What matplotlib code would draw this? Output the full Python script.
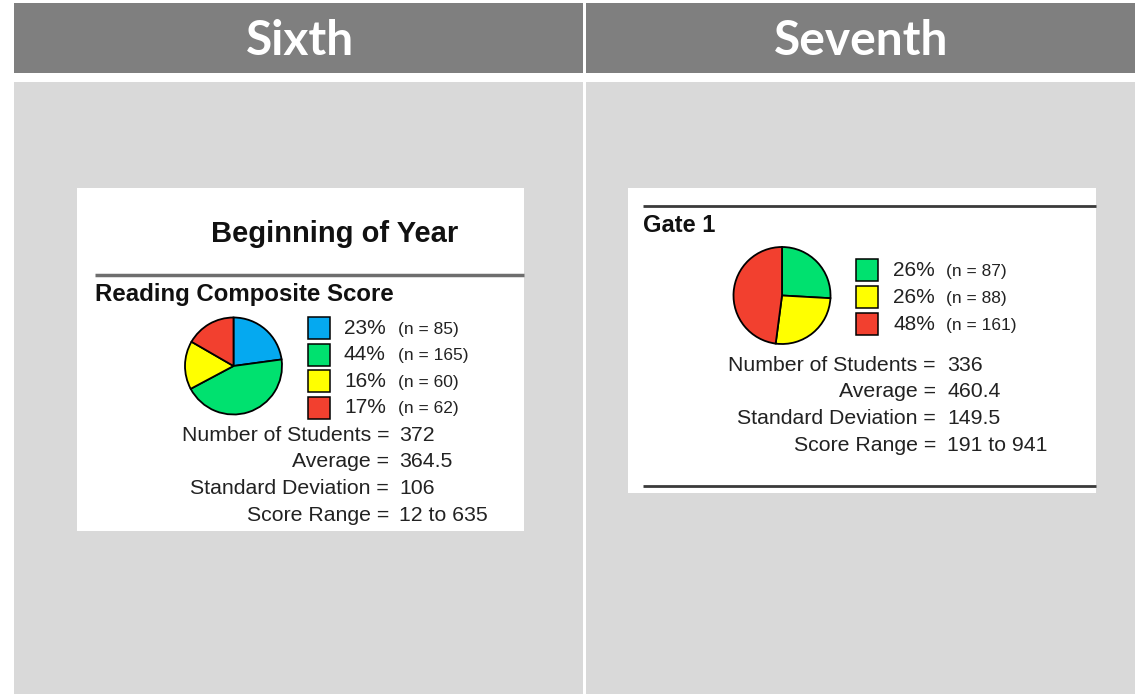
import matplotlib
matplotlib.use("Agg")
import matplotlib.pyplot as plt
from matplotlib.patches import Rectangle

# ---------------- data ----------------
grades = ["Sixth", "Seventh"]

boy_title = "Beginning of Year"
boy_subtitle = "Reading Composite Score"
boy_counts = [85, 165, 60, 62]
boy_pcts = ["23%", "44%", "16%", "17%"]
boy_colors = ["#05a9f0", "#00e16f", "#ffff00", "#f2402f"]
boy_stat_labels = ["Number of Students =", "Average =", "Standard Deviation =", "Score Range ="]
boy_stat_values = ["372", "364.5", "106", "12 to 635"]

gate_title = "Gate 1"
gate_counts = [87, 88, 161]
gate_pcts = ["26%", "26%", "48%"]
gate_colors = ["#00e16f", "#ffff00", "#f2402f"]
gate_stat_labels = ["Number of Students =", "Average =", "Standard Deviation =", "Score Range ="]
gate_stat_values = ["336", "460.4", "149.5", "191 to 941"]

# ---------------- figure ----------------
W, H = 1135, 694
fig = plt.figure(figsize=(W / 100, H / 100), dpi=100)
fig.patch.set_facecolor("white")
bg = fig.add_axes([0, 0, 1, 1])
bg.set_xlim(0, W)
bg.set_ylim(H, 0)
bg.axis("off")

AR = "Liberation Sans"
HEAD = "Lato"

# table cells
cells = [(14, 583), (586, 1135)]
for (x0, x1), g in zip(cells, grades):
    bg.add_patch(Rectangle((x0, 3), x1 - x0, 70, facecolor="#7f7f7f", edgecolor="none"))
    bg.add_patch(Rectangle((x0, 82), x1 - x0, H - 82, facecolor="#d9d9d9", edgecolor="none"))
    bg.text((x0 + x1) / 2 + 1, 41, g, color="white", fontsize=34.5, fontweight="bold",
            family=HEAD, ha="center", va="center")

# white panels
bg.add_patch(Rectangle((77, 188), 447, 343, facecolor="white", edgecolor="none"))
bg.add_patch(Rectangle((628, 188), 468, 305, facecolor="white", edgecolor="none"))


def add_pie(cx, cy, r, counts, colors):
    m = 1.04
    half = r * m
    ax = fig.add_axes([(cx - half) / W, (H - cy - half) / H, 2 * half / W, 2 * half / H])
    ax.pie(counts, colors=colors, startangle=90, counterclock=False,
           wedgeprops=dict(edgecolor="black", linewidth=1.3))
    ax.set_xlim(-m, m)
    ax.set_ylim(-m, m)
    ax.set_aspect("equal")
    ax.axis("off")


def add_legend(x_sq, y0, dy, pcts, counts, colors, x_pct, x_n):
    for i, (p, n, c) in enumerate(zip(pcts, counts, colors)):
        y = y0 + i * dy
        bg.add_patch(Rectangle((x_sq, y - 11), 22, 22, facecolor=c, edgecolor="black", linewidth=1.1))
        bg.text(x_pct, y, p, fontsize=15, family=AR, ha="left", va="center", color="#222222")
        bg.text(x_n, y + 1, f"(n = {n})", fontsize=12.5, family=AR, ha="left", va="center", color="#222222")


def add_stats(x_eq, x_val, y0, dy, labels, values):
    for i, (lab, val) in enumerate(zip(labels, values)):
        y = y0 + i * dy
        bg.text(x_eq, y, lab, fontsize=15.3, family=AR, ha="right", va="center", color="#222222")
        bg.text(x_val, y, val, fontsize=15.3, family=AR, ha="left", va="center", color="#222222")


# ---- panel 1: Beginning of Year ----
bg.text(335, 234, boy_title, fontsize=21, fontweight="bold", family=AR, ha="center", va="center", color="#111111")
bg.plot([95, 524], [275, 275], color="#6e6e6e", lw=2.5, solid_capstyle="butt")
bg.text(95, 294, boy_subtitle, fontsize=17.3, fontweight="bold", family=AR, ha="left", va="center", color="#111111")
add_pie(233.5, 366, 48.5, boy_counts, boy_colors)
add_legend(308, 328, 26.6, boy_pcts, boy_counts, boy_colors, 344, 398)
add_stats(389, 399, 435, 26.7, boy_stat_labels, boy_stat_values)

# ---- panel 2: Gate 1 ----
bg.plot([643, 1096], [206, 206], color="#3a3a3a", lw=2, solid_capstyle="butt")
bg.text(643, 225, gate_title, fontsize=17, fontweight="bold", family=AR, ha="left", va="center", color="#111111")
add_pie(782, 295.5, 48.5, gate_counts, gate_colors)
add_legend(856, 270, 27, gate_pcts, gate_counts, gate_colors, 893, 946)
add_stats(936, 947, 365, 26.7, gate_stat_labels, gate_stat_values)
bg.plot([643, 1096], [486, 486], color="#3a3a3a", lw=2, solid_capstyle="butt")

fig.savefig("out.png", dpi=100, facecolor="white")
